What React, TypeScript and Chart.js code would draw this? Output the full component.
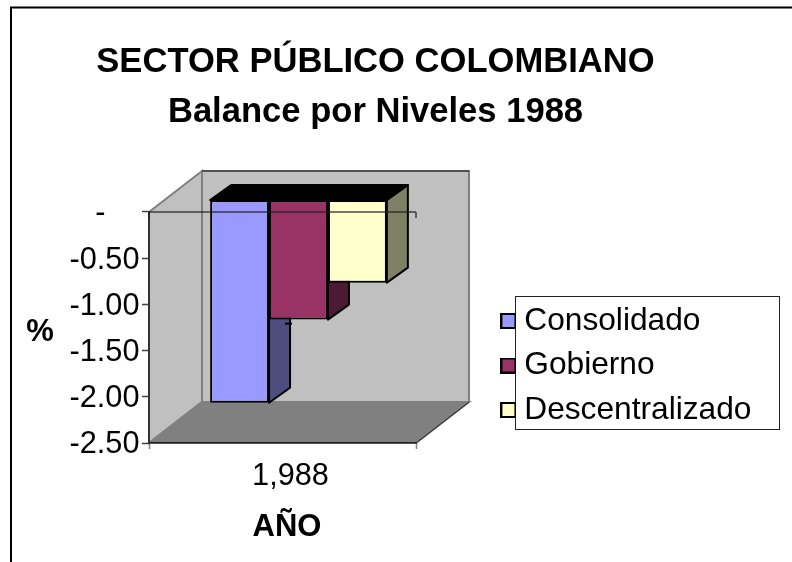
import React, { useEffect, useRef } from "react";
import { Chart, registerables } from "chart.js";

Chart.register(...registerables);

const FONT = "'Liberation Sans', Arial, sans-serif";
const titleLines = ["SECTOR PÚBLICO COLOMBIANO", "Balance por Niveles 1988"];
const categories = ["1,988"];
const seriesNames = ["Consolidado", "Gobierno", "Descentralizado"];
const consolidado = [-2.2];
const gobierno = [-1.3];
const descentralizado = [-0.9];
const faceColors = ["#9999FF", "#993366", "#FFFFCC"];
const sideColors = ["#4D4D80", "#4D1A33", "#808066"];
const yTitle = "%";
const xTitle = "AÑO";

const WALL = { dx: 53, dy: -41 };
const BAR_SHIFT = { dx: 16, dy: -12.5 };
const BAR_DEPTH = { dx: 21, dy: -15 };

function swatch(color: string) {
  const c = document.createElement("canvas");
  c.width = 16;
  c.height = 16;
  const g = c.getContext("2d")!;
  g.fillStyle = "#000";
  g.fillRect(0, 0, 16, 16);
  g.fillStyle = color;
  g.fillRect(2, 2, 12, 12);
  return c;
}

function poly(ctx: CanvasRenderingContext2D, pts: number[][]) {
  ctx.beginPath();
  pts.forEach((p, i) => (i ? ctx.lineTo(p[0], p[1]) : ctx.moveTo(p[0], p[1])));
  ctx.closePath();
}

const scene = {
  id: "scene",
  afterLayout(chart: any) {
    const t = chart.titleBlock;
    t.left = 0;
    t.right = 751;
    const l = chart.legend;
    l.left = 495.6;
    l.top = 292.35;
    l.right = 792;
    l.bottom = 460;
    l.width = l.right - l.left;
    l.height = l.bottom - l.top;
  },
  beforeDraw(chart: any) {
    const { ctx, chartArea: a } = chart;
    const { dx, dy } = WALL;
    ctx.save();
    // outer frame
    ctx.strokeStyle = "#000";
    ctx.lineWidth = 2;
    ctx.strokeRect(11, 7.5, 900, 700);
    // legend frame
    ctx.lineWidth = 1;
    ctx.strokeStyle = "#222";
    ctx.strokeRect(515.5, 296.5, 264, 133);
    // back wall
    ctx.fillStyle = "#C0C0C0";
    ctx.fillRect(a.left + dx, a.top + dy, a.right - a.left, a.bottom - a.top);
    ctx.strokeStyle = "#808080";
    ctx.lineWidth = 2;
    ctx.strokeRect(a.left + dx, a.top + dy, a.right - a.left, a.bottom - a.top);
    // side wall
    poly(ctx, [[a.left, a.top], [a.left + dx, a.top + dy], [a.left + dx, a.bottom + dy], [a.left, a.bottom]]);
    ctx.fill();
    ctx.stroke();
    // floor
    ctx.fillStyle = "#808080";
    poly(ctx, [[a.left, a.bottom], [a.left + dx, a.bottom + dy], [a.right + dx, a.bottom + dy], [a.right, a.bottom]]);
    ctx.fill();
    ctx.stroke();
    ctx.strokeStyle = "#222";
    ctx.lineWidth = 1;
    ctx.beginPath();
    ctx.moveTo(a.right, a.bottom);
    ctx.lineTo(a.right + dx, a.bottom + dy);
    ctx.moveTo(a.left + dx, a.top + dy);
    ctx.lineTo(a.right + dx, a.top + dy);
    ctx.stroke();
    ctx.restore();
  },
  beforeDatasetsDraw(chart: any) {
    const { ctx } = chart;
    const s = BAR_SHIFT;
    const d = BAR_DEPTH;
    ctx.save();
    ctx.translate(s.dx, s.dy);
    ctx.strokeStyle = "#000";
    ctx.lineWidth = 2;
    ctx.lineJoin = "round";
    chart.data.datasets.forEach((_: any, i: number) => {
      const bar = chart.getDatasetMeta(i).data[0];
      const r = bar.x + bar.width / 2;
      const l = bar.x - bar.width / 2;
      const top = bar.base;
      const bottom = bar.y;
      ctx.fillStyle = sideColors[i];
      poly(ctx, [[r, top], [r + d.dx, top + d.dy], [r + d.dx, bottom + d.dy], [r, bottom]]);
      ctx.fill();
      ctx.stroke();
      ctx.fillStyle = "#000";
      poly(ctx, [[l, top], [l + d.dx, top + d.dy], [r + d.dx, top + d.dy], [r, top]]);
      ctx.fill();
      ctx.stroke();
    });
  },
  afterDatasetsDraw(chart: any) {
    const { ctx, chartArea: a } = chart;
    ctx.restore();
    const s = BAR_SHIFT;
    const d = BAR_DEPTH;
    ctx.save();
    // small stray tick behind the second bar
    const first = chart.getDatasetMeta(0).data[0];
    const second = chart.getDatasetMeta(1).data[0];
    const ex = first.x + first.width / 2 + s.dx + d.dx;
    const ey = second.y + s.dy + 4;
    ctx.strokeStyle = "#000";
    ctx.lineWidth = 2;
    ctx.beginPath();
    ctx.moveTo(ex - 5, ey);
    ctx.lineTo(ex + 2, ey);
    ctx.stroke();
    // axis at the value zero, over the bars
    const y0 = chart.scales.y.getPixelForValue(0);
    ctx.strokeStyle = "rgba(30,30,30,0.8)";
    ctx.lineWidth = 1.5;
    ctx.beginPath();
    ctx.moveTo(a.left, y0);
    ctx.lineTo(a.right, y0);
    ctx.moveTo(a.left, y0);
    ctx.lineTo(a.left, y0 + 6);
    ctx.moveTo(a.right, y0);
    ctx.lineTo(a.right, y0 + 6);
    ctx.stroke();
    // text titles
    ctx.fillStyle = "#000";
    ctx.font = `bold 31px ${FONT}`;
    ctx.textAlign = "center";
    ctx.textBaseline = "middle";
    ctx.fillText(yTitle, 40, 332);
    ctx.fillText(xTitle, 287, 527);
    ctx.restore();
  },
};

export default function App() {
  const ref = useRef<HTMLCanvasElement>(null);
  useEffect(() => {
    const series = [consolidado, gobierno, descentralizado];
    const chart = new Chart(ref.current!, {
      type: "bar",
      data: {
        labels: categories,
        datasets: series.map((values, i) => ({
          label: seriesNames[i],
          data: values,
          backgroundColor: faceColors[i],
          borderColor: "#000",
          borderWidth: 2,
          borderSkipped: false,
          categoryPercentage: 0.662,
          barPercentage: 1,
          clip: false as any,
        })),
      },
      options: {
        animation: false,
        responsive: false,
        layout: { padding: { left: 0, right: 376, top: 0, bottom: 0 } },
        plugins: {
          tooltip: { enabled: false },
          title: {
            display: true,
            text: titleLines,
            color: "#000",
            font: { family: FONT, size: 34.6, weight: "bold", lineHeight: 1.445 },
            padding: { top: 37.5, bottom: 74.5 },
          },
          legend: {
            display: true,
            position: "chartArea" as any,
            align: "start",
            labels: {
              color: "#000",
              font: { family: FONT, size: 31.7 },
              padding: 12.8,
              usePointStyle: true,
              pointStyleWidth: 0.01,
              boxHeight: 16,
              generateLabels: (c: any) =>
                c.data.datasets.map((ds: any, i: number) => ({
                  text: ds.label,
                  datasetIndex: i,
                  fontColor: "#000",
                  pointStyle: swatch(ds.backgroundColor),
                })),
            },
          },
        },
        scales: {
          x: {
            type: "category",
            offset: true,
            afterFit: (s: any) => {
              s.height = 119;
            },
            border: { display: true, color: "#222", width: 1.5 },
            grid: { offset: true, drawOnChartArea: false, drawTicks: true, tickLength: 6, tickColor: "#808080", tickWidth: 1.5 },
            ticks: { color: "#000", font: { family: FONT, size: 30.7 }, padding: 9, labelOffset: 8, maxRotation: 0 },
          },
          y: {
            min: -2.5,
            max: 0,
            afterFit: (s: any) => {
              s.width = 149;
            },
            border: { display: true, color: "#333", width: 2 },
            grid: { drawOnChartArea: false, drawTicks: true, tickLength: 7, tickColor: "#404040", tickWidth: 1.5 },
            ticks: {
              stepSize: 0.5,
              color: "#000",
              padding: 2.5,
              labelOffset: 2,
              font: { family: FONT, size: 30.7 },
              callback: (v: any) => (Number(v) === 0 ? "-\u00A0\u00A0\u00A0\u00A0" : Number(v).toFixed(2)),
            },
          },
        },
      },
      plugins: [scene],
    } as any);
    return () => chart.destroy();
  }, []);
  return (
    <canvas
      ref={ref}
      width={792}
      height={562}
      style={{ position: "absolute", left: 0, top: 0, display: "block" }}
    />
  );
}
